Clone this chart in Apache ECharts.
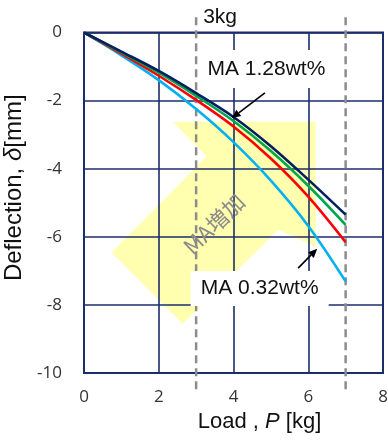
<!DOCTYPE html>
<html>
<head>
<meta charset="utf-8">
<script src="https://cdn.jsdelivr.net/npm/echarts@6/dist/echarts.min.js"></script>
<style>
html, body { margin: 0; padding: 0; background: #fff; }
#chart { width: 388px; height: 441px; }
</style>
</head>
<body>
<div id="chart"></div>
<script>
// 荷重 P [kg]
var loads = [0, 1, 2, 3, 4, 5, 6, 7];
// たわみ δ [mm]
var deflMA128 = [0, -0.56, -1.13, -1.78, -2.48, -3.34, -4.32, -5.35];
var deflGreen = [0, -0.58, -1.18, -1.86, -2.60, -3.48, -4.50, -5.65];
var deflRed   = [0, -0.62, -1.27, -1.98, -2.76, -3.70, -4.82, -6.16];
var deflMA032 = [0, -0.67, -1.40, -2.25, -3.22, -4.35, -5.68, -7.31];
// 基準荷重 (破線)
var refLoads = [3, 7];

var chart = echarts.init(document.getElementById('chart'));

var NAVY = '#1c2d6b';
var LABEL_FONT = '"Liberation Sans", Arial, sans-serif';

function pairs(ys) {
	return loads.map(function (x, i) { return [x, ys[i]]; });
}

function curve(name, ys, color) {
	return {
		name: name,
		type: 'line',
		data: pairs(ys),
		smooth: 0.35,
		showSymbol: false,
		symbol: 'none',
		lineStyle: { color: color, width: 2.6 },
		z: 5
	};
}

var refSeries = refLoads.map(function (p) {
	return {
		type: 'line',
		data: [[p, 0.45], [p, -10.5]],
		clip: false,
		symbol: 'none',
		silent: true,
		lineStyle: { color: '#8c8c8c', width: 2.5, type: [8, 5] },
		z: 4
	};
});

var option = {
	animation: false,
	grid: {
		left: 84, right: 5, top: 32.5, bottom: 68,
		outerBoundsMode: 'none',
		containLabel: false,
		show: true, borderColor: NAVY, borderWidth: 2
	},
	xAxis: {
		type: 'value', min: 0, max: 8, interval: 2,
		name: '{n|Load , }{i|P}{n| [kg]}',
		nameLocation: 'middle', nameGap: 28,
		nameTextStyle: {
			padding: [0, 0, 0, 52],
			rich: {
				n: { fontFamily: LABEL_FONT, fontSize: 22, color: '#111' },
				i: { fontFamily: LABEL_FONT, fontSize: 22, color: '#111', fontStyle: 'italic' }
			}
		},
		axisLine: { show: false },
		axisTick: { show: false },
		axisLabel: { fontFamily: '"Open Sans", sans-serif', fontSize: 17, color: '#333', margin: 16 },
		splitLine: { lineStyle: { color: NAVY, width: 1.6 } }
	},
	yAxis: {
		type: 'value', min: -10, max: 0, interval: 2,
		name: '{n|Deflection, }{i|δ}{n|[mm]}',
		nameLocation: 'middle', nameGap: 51, nameRotate: 90,
		nameTextStyle: {
			padding: [0, 0, 0, 30],
			rich: {
				n: { fontFamily: LABEL_FONT, fontSize: 24, color: '#111' },
				i: { fontFamily: LABEL_FONT, fontSize: 24, color: '#111', fontStyle: 'italic' }
			}
		},
		axisLine: { show: false },
		axisTick: { show: false },
		axisLabel: { fontFamily: '"Open Sans", sans-serif', fontSize: 17, color: '#333', margin: 22 },
		splitLine: { lineStyle: { color: NAVY, width: 1.6 } }
	},
	series: refSeries.concat([
		curve('MA 0.32wt%', deflMA032, '#00b0f0'),
		curve('red', deflRed, '#ff0000'),
		curve('green', deflGreen, '#00a550'),
		curve('MA 1.28wt%', deflMA128, '#002060')
	])
};

chart.setOption(option);

// 注記 (データ座標で配置)
function px(p) { return chart.convertToPixel({ gridIndex: 0 }, p); }

var arrowShape = [[2.38, -2.62], [6.20, -2.62], [6.20, -6.29], [5.20, -5.79],
	[2.64, -8.55], [0.74, -6.46], [3.28, -3.64]];

function labelBox(center, w, h, text) {
	var c = px(center);
	return [{
		type: 'rect', z: 50,
		shape: { x: c[0] - w / 2, y: c[1] - h / 2, width: w, height: h },
		style: { fill: '#fff' }
	}, {
		type: 'text', z: 51,
		x: c[0], y: c[1],
		style: { text: text, fill: '#111', font: '21px ' + LABEL_FONT, align: 'center', verticalAlign: 'middle' }
	}];
}

function arrowLine(from, to) {
	var a = px(from), b = px(to);
	var ang = Math.atan2(b[1] - a[1], b[0] - a[0]);
	var L = 9, W = 4;
	var bx = b[0] - L * Math.cos(ang), by = b[1] - L * Math.sin(ang);
	return [{
		type: 'line', z: 52,
		shape: { x1: a[0], y1: a[1], x2: bx, y2: by },
		style: { stroke: '#000', lineWidth: 1.6 }
	}, {
		type: 'polygon', z: 52,
		shape: { points: [b,
			[bx + W * Math.sin(ang), by - W * Math.cos(ang)],
			[bx - W * Math.sin(ang), by + W * Math.cos(ang)]] },
		style: { fill: '#000' }
	}];
}

var mid = px([3.48, -5.62]);
var top3 = px([3, 0.45]);

var elements = [{
	type: 'polygon', z: -1,
	shape: { points: arrowShape.map(px) },
	style: { fill: 'rgba(255,255,110,0.55)' }
}, {
	type: 'text', z: 10,
	x: mid[0], y: mid[1], rotation: 44 * Math.PI / 180,
	style: { text: 'MA増加', fill: '#8a8a8a', font: '22px "Noto Sans CJK JP", sans-serif', align: 'center', verticalAlign: 'middle' }
}, {
	type: 'text', z: 10,
	x: top3[0] + 7, y: top3[1],
	style: { text: '3kg', fill: '#111', font: '21px ' + LABEL_FONT, align: 'left', verticalAlign: 'middle' }
}]
	.concat(labelBox([4.88, -1.07], 137, 38, 'MA 1.28wt%'))
	.concat(labelBox([4.70, -7.52], 138, 35, 'MA 0.32wt%'))
	.concat(arrowLine([4.84, -1.77], [3.95, -2.52]))
	.concat(arrowLine([5.73, -6.92], [6.24, -6.35]));

chart.setOption({ graphic: { elements: elements } });
</script>
</body>
</html>
